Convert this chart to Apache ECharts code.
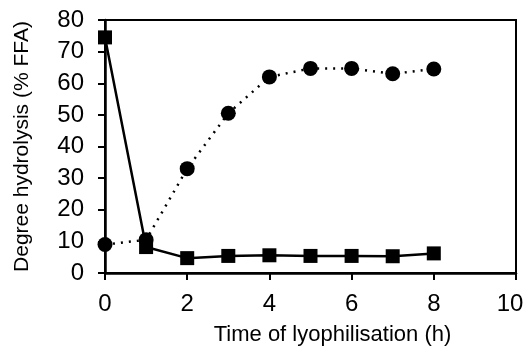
<!DOCTYPE html>
<html>
<head>
<meta charset="utf-8">
<script src="https://cdn.jsdelivr.net/npm/echarts@6/dist/echarts.min.js"></script>
<style>
  html, body { margin: 0; padding: 0; background: #fff; }
  #chart { width: 524px; height: 347px; }
</style>
</head>
<body>
<div id="chart"></div>
<script>
// 冻干时间 (h)
const hours = [0, 1, 2, 3, 4, 5, 6, 7, 8];
// 圆点系列：虚线
const circleValues = [9, 10.5, 33, 50.5, 62, 64.7, 64.7, 63, 64.5];
// 方块系列：实线
const squareValues = [74.5, 8.2, 4.7, 5.4, 5.6, 5.4, 5.4, 5.3, 6.2];

const font = 'Liberation Sans, Arial, sans-serif';

function pairs(xs, ys) {
  return xs.map((x, i) => [x, ys[i]]);
}

const chart = echarts.init(document.getElementById('chart'));
chart.setOption({
  animation: false,
  backgroundColor: '#fff',
  grid: {
    left: 105, right: 8, top: 20, bottom: 74,
    outerBoundsMode: 'none',
    show: true, borderColor: '#000', borderWidth: 2
  },
  xAxis: {
    type: 'value', min: 0, max: 10, interval: 2,
    name: 'Time of lyophilisation (h)',
    nameLocation: 'middle', nameGap: 51,
    nameTextStyle: { fontFamily: font, fontSize: 22, color: '#000', padding: [0, 0, 0, 44] },
    axisLine: { lineStyle: { color: '#000', width: 2.5 } },
    axisTick: { show: true, inside: false, length: 7, lineStyle: { color: '#000', width: 2 } },
    axisLabel: {
      fontFamily: font, fontSize: 24, color: '#000', margin: 19,
      // 最右的标签稍微左移，避免被裁掉
      formatter: v => (v === 10 ? '{r|10}' : String(v)),
      rich: { r: { fontFamily: font, fontSize: 24, color: '#000', padding: [0, 12, 0, 0] } }
    },
    splitLine: { show: false }
  },
  yAxis: {
    type: 'value', min: 0, max: 80, interval: 10,
    name: 'Degree hydrolysis (% FFA)',
    nameLocation: 'middle', nameGap: 72,
    nameTextStyle: { fontFamily: font, fontSize: 21, color: '#000' },
    axisLine: { lineStyle: { color: '#000', width: 2.5 } },
    axisTick: { show: true, inside: false, length: 7, lineStyle: { color: '#000', width: 2 } },
    axisLabel: { fontFamily: font, fontSize: 24, color: '#000', margin: 21 },
    splitLine: { show: false }
  },
  series: [
    {
      type: 'line',
      data: pairs(hours, circleValues),
      symbol: 'circle', symbolSize: 15,
      itemStyle: { color: '#000' },
      lineStyle: { color: '#000', width: 2.5, type: [2, 6] }
    },
    {
      type: 'line',
      data: pairs(hours, squareValues),
      symbol: 'rect', symbolSize: 14,
      itemStyle: { color: '#000' },
      lineStyle: { color: '#000', width: 2.5 }
    }
  ]
});
</script>
</body>
</html>
